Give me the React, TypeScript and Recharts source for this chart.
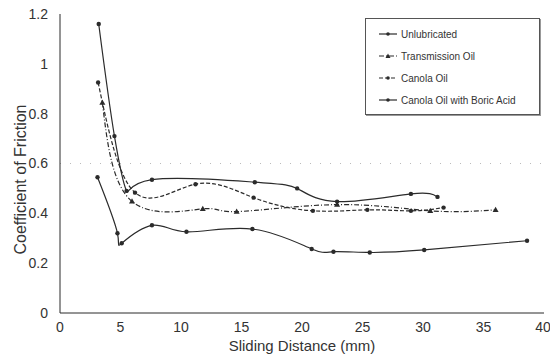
import { LineChart, Line, XAxis, YAxis, ReferenceLine } from 'recharts';

// Readings taken off the plot (sliding distance in mm, coefficient of friction)
const unlubricated = [
  { x: 3.2, y: 1.16 },
  { x: 4.5, y: 0.71 },
  { x: 5.5, y: 0.49 },
  { x: 7.6, y: 0.535 },
  { x: 16.1, y: 0.525 },
  { x: 19.6, y: 0.5 },
  { x: 22.9, y: 0.447 },
  { x: 29.0, y: 0.478 },
  { x: 31.2, y: 0.466 },
];

const transmissionOil = [
  { x: 3.5, y: 0.845 },
  { x: 5.95, y: 0.448 },
  { x: 11.8, y: 0.418 },
  { x: 14.6, y: 0.407 },
  { x: 22.9, y: 0.435 },
  { x: 30.6, y: 0.41 },
  { x: 36.0, y: 0.414 },
];

const canolaOil = [
  { x: 3.15, y: 0.925 },
  { x: 6.2, y: 0.483 },
  { x: 11.2, y: 0.517 },
  { x: 16.0, y: 0.463 },
  { x: 20.9, y: 0.41 },
  { x: 25.4, y: 0.414 },
  { x: 29.0, y: 0.41 },
  { x: 31.7, y: 0.423 },
];

const canolaBoric = [
  { x: 3.1, y: 0.545 },
  { x: 4.75, y: 0.32 },
  { x: 5.1, y: 0.28 },
  { x: 7.6, y: 0.352 },
  { x: 10.45, y: 0.326 },
  { x: 15.9, y: 0.337 },
  { x: 20.8, y: 0.257 },
  { x: 22.6, y: 0.246 },
  { x: 25.6, y: 0.243 },
  { x: 30.1, y: 0.253 },
  { x: 38.6, y: 0.29 },
];

const xTicks = [0, 5, 10, 15, 20, 25, 30, 35, 40];
const yTicks = [0, 0.2, 0.4, 0.6, 0.8, 1, 1.2];

const ink = '#2b2b2b';
const font = '"Liberation Sans", Arial, sans-serif';

const series = [
  { name: 'Unlubricated', data: unlubricated, dash: undefined, shape: 'dot' },
  { name: 'Transmission Oil', data: transmissionOil, dash: '5 2 1 2', shape: 'tri' },
  { name: 'Canola Oil', data: canolaOil, dash: '4 2', shape: 'dot' },
  { name: 'Canola Oil with Boric Acid', data: canolaBoric, dash: undefined, shape: 'dot' },
];

function Marker(props: any) {
  const { cx, cy, shape } = props;
  if (cx == null || cy == null) return null;
  if (shape === 'tri') {
    return <path d={`M${cx},${cy - 3} L${cx + 3},${cy + 2.2} L${cx - 3},${cy + 2.2} Z`} fill={ink} />;
  }
  return <circle cx={cx} cy={cy} r={2.2} fill={ink} />;
}

// legend sits inside the plot, top right, like the original figure
function LegendBox() {
  return (
    <div
      style={{
        position: 'absolute',
        top: 18,
        left: 365,
        width: 175,
        boxSizing: 'border-box',
        border: '1px solid #555',
        background: '#fff',
        padding: '4px 0 3px 12px',
        fontFamily: font,
        fontSize: 10,
        color: '#333',
        boxShadow: '1px 1px 0 #999',
      }}
    >
      {series.map((s) => (
        <div key={s.name} style={{ display: 'flex', alignItems: 'center', height: 22 }}>
          <svg width={20} height={8} style={{ marginRight: 3 }}>
            <line x1={1} y1={4} x2={19} y2={4} stroke={ink} strokeWidth={1.2} strokeDasharray={s.dash} />
            {s.shape === 'tri' ? (
              <path d="M10,1.5 L12.5,6 L7.5,6 Z" fill={ink} />
            ) : (
              <circle cx={10} cy={4} r={1.8} fill={ink} />
            )}
          </svg>
          <span>{s.name}</span>
        </div>
      ))}
    </div>
  );
}

export default function App() {
  return (
    <div style={{ position: 'absolute', left: 0, top: 0, width: 550, height: 356, background: '#fff' }}>
      <LineChart width={550} height={356} margin={{ top: 14, right: 6, bottom: 0, left: 0 }}>
        <XAxis
          type="number"
          dataKey="x"
          domain={[0, 40]}
          ticks={xTicks}
          height={43}
          stroke={ink}
          tickLine={false}
          tickMargin={3}
          tick={{ fill: '#333', fontSize: 14, fontFamily: font }}
          allowDuplicatedCategory={false}
          label={{
            value: 'Sliding Distance (mm)',
            position: 'insideBottom',
            offset: 5,
            fill: '#333',
            fontSize: 15,
            fontFamily: font,
          }}
        />
        <XAxis xAxisId="top" orientation="top" type="number" domain={[0, 40]} height={0} tick={false} tickLine={false} stroke={ink} />
        <YAxis
          type="number"
          domain={[0, 1.2]}
          ticks={yTicks}
          width={60}
          stroke={ink}
          tickLine={false}
          tickMargin={6}
          tick={{ fill: '#333', fontSize: 14, fontFamily: font }}
          label={{
            value: 'Coefficient of Friction',
            angle: -90,
            position: 'insideLeft',
            offset: 20,
            dy: 16,
            style: { textAnchor: 'middle' },
            fill: '#333',
            fontSize: 16,
            fontFamily: font,
          }}
        />
        <YAxis yAxisId="right" orientation="right" domain={[0, 1.2]} width={0} tick={false} tickLine={false} stroke={ink} />
        <ReferenceLine y={0.6} stroke="#bbb" strokeDasharray="1 9" />
        {series.map((s) => (
          <Line
            key={s.name}
            name={s.name}
            data={s.data}
            dataKey="y"
            type="natural"
            stroke={ink}
            strokeWidth={1.2}
            strokeDasharray={s.dash}
            dot={(p: any) => <Marker key={`${s.name}-${p.index}`} {...p} shape={s.shape} />}
            activeDot={false}
            isAnimationActive={false}
          />
        ))}
      </LineChart>
      <LegendBox />
    </div>
  );
}
